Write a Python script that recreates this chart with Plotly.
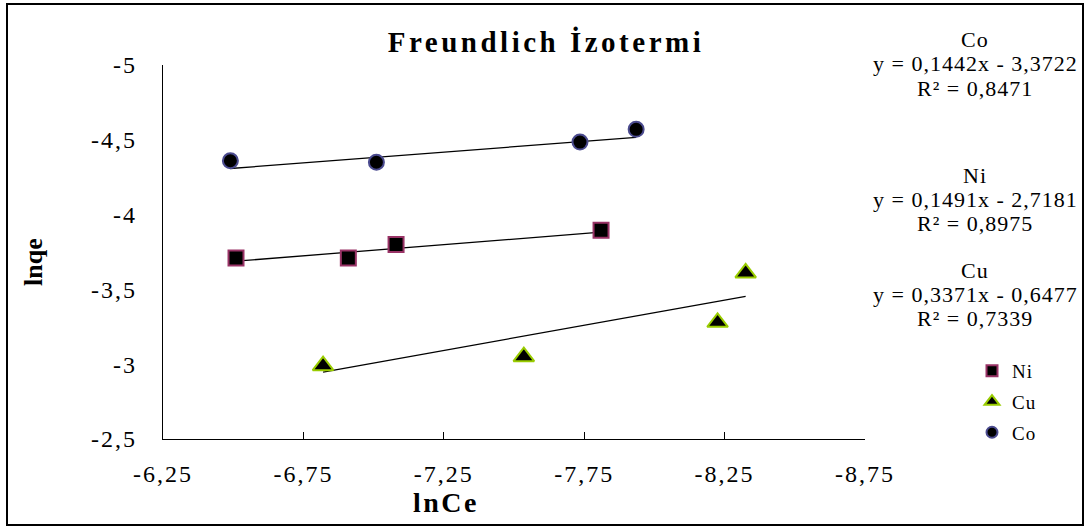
import plotly.graph_objects as go

# Freundlich isotherm data: lnCe (x) vs lnqe (y) for each metal
co_x = [-6.49, -7.01, -7.735, -7.935]
co_y = [-4.36, -4.35, -4.485, -4.57]
ni_x = [-6.51, -6.91, -7.08, -7.81]
ni_y = [-3.71, -3.71, -3.80, -3.895]
cu_x = [-6.82, -7.535, -8.225, -8.325]
cu_y = [-2.99, -3.05, -3.28, -3.61]

# Linear fit coefficients (slope, intercept) and R² per metal
fit_slope = {"Co": 0.1442, "Ni": 0.1491, "Cu": 0.3371}
fit_icept = {"Co": -3.3722, "Ni": -2.7181, "Cu": -0.6477}
fit_r2 = {"Co": 0.8471, "Ni": 0.8975, "Cu": 0.7339}

x_tickvals = [-6.25, -6.75, -7.25, -7.75, -8.25, -8.75]
x_ticklabels = ["-6,25", "-6,75", "-7,25", "-7,75", "-8,25", "-8,75"]
y_tickvals = [-5, -4.5, -4, -3.5, -3, -2.5]
y_ticklabels = ["-5", "-4,5", "-4", "-3,5", "-3", "-2,5"]

FONT = "Liberation Serif, Times New Roman, serif"


def spaced(text, px):
    return f'<span style="letter-spacing:{px}px">{text}</span>'


def comma(v):
    return f"{v:.4f}".replace(".", ",")


series = [
    ("Ni", ni_x, ni_y, "square", "#993366", 15),
    ("Cu", cu_x, cu_y, "triangle-up", "#99cc00", 18),
    ("Co", co_x, co_y, "circle", "#4b4b8f", 15),
]

fig = go.Figure()

# trend lines over each series' own x span
for name, xs, ys, sym, edge, sz in series:
    x0, x1 = max(xs), min(xs)
    a, b = fit_slope[name], fit_icept[name]
    fig.add_trace(go.Scatter(
        x=[x0, x1], y=[a * x0 + b, a * x1 + b], mode="lines",
        line=dict(color="black", width=1.3), showlegend=False, hoverinfo="skip",
    ))

# data markers
for name, xs, ys, sym, edge, sz in series:
    fig.add_trace(go.Scatter(
        x=xs, y=ys, mode="markers", name=name, showlegend=False,
        marker=dict(symbol=sym, size=sz, color="black", line=dict(color=edge, width=2)),
    ))

# legend entries with smaller swatches
for name, xs, ys, sym, edge, sz in series:
    fig.add_trace(go.Scatter(
        x=[None], y=[None], mode="markers", name=spaced(name, 1),
        legendgroup=name,
        marker=dict(symbol=sym, size=11 if sym != "triangle-up" else 13,
                    color="black", line=dict(color=edge, width=2)),
    ))

# paper-coordinate helpers (plot area spans 163..865 x, 65..439 y)
L, R, T, B = 163, 865, 65, 439
W, H = R - L, B - T


def px_x(p):
    return (p - L) / W


def px_y(p):
    return (B - p) / H


annotations = []
eq_blocks = [("Co", 40), ("Ni", 175), ("Cu", 270)]
for name, top in eq_blocks:
    a, b = fit_slope[name], fit_icept[name]
    sign = "-" if b < 0 else "+"
    lines = [
        name,
        f"y = {comma(a)}x {sign} {comma(abs(b))}",
        f"R² = {comma(fit_r2[name])}",
    ]
    for i, txt in enumerate(lines):
        annotations.append(dict(
            x=px_x(975), y=px_y(top + 24 * i), xref="paper", yref="paper",
            text=spaced(txt, 1), showarrow=False, xanchor="center", yanchor="middle",
            font=dict(family=FONT, size=22, color="black"),
        ))

# axis titles
annotations.append(dict(
    x=px_x(446), y=px_y(502), xref="paper", yref="paper",
    text=spaced("<b>lnCe</b>", 2.5), showarrow=False, xanchor="center", yanchor="middle",
    font=dict(family=FONT, size=28, color="black"),
))
annotations.append(dict(
    x=px_x(33), y=px_y(262), xref="paper", yref="paper", textangle=-90,
    text="<b>lnqe</b>", showarrow=False, xanchor="center", yanchor="middle",
    font=dict(family=FONT, size=26, color="black"),
))

fig.update_layout(
    width=1085, height=527,
    margin=dict(l=L, r=1085 - R, t=T, b=527 - B),
    paper_bgcolor="white", plot_bgcolor="white",
    font=dict(family=FONT, color="black"),
    title=dict(
        text=spaced("<b>Freundlich İzotermi</b>", 3.5),
        xref="paper", x=px_x(546), xanchor="center",
        yref="container", y=1 - 42 / 527, yanchor="middle",
        font=dict(family=FONT, size=29, color="black"),
    ),
    xaxis=dict(
        range=[-6.25, -8.75], tickvals=x_tickvals,
        ticktext=[spaced(t, 2) for t in x_ticklabels],
        ticks="inside", ticklen=7, tickcolor="black", tickwidth=1,
        showline=True, linecolor="black", linewidth=1.3, mirror=False,
        showgrid=False, zeroline=False, ticklabelstandoff=13,
        tickfont=dict(family=FONT, size=24, color="black"),
    ),
    yaxis=dict(
        range=[-2.5, -5], tickvals=y_tickvals,
        ticktext=[spaced(t, 2) for t in y_ticklabels],
        ticks="", showline=True, linecolor="black", linewidth=1.3, mirror=False,
        showgrid=False, zeroline=False, ticklabelstandoff=20,
        tickfont=dict(family=FONT, size=24, color="black"),
    ),
    legend=dict(
        x=px_x(972), y=px_y(352), xanchor="left", yanchor="top",
        font=dict(family=FONT, size=19, color="black"),
        tracegroupgap=3, itemwidth=30, bgcolor="rgba(0,0,0,0)",
    ),
    annotations=annotations,
    shapes=[dict(
        type="rect", xref="paper", yref="paper",
        x0=px_x(7), x1=px_x(1083), y0=px_y(525), y1=px_y(4),
        line=dict(color="black", width=2), fillcolor="rgba(0,0,0,0)", layer="above",
    )],
)

fig.write_html("out.html")
